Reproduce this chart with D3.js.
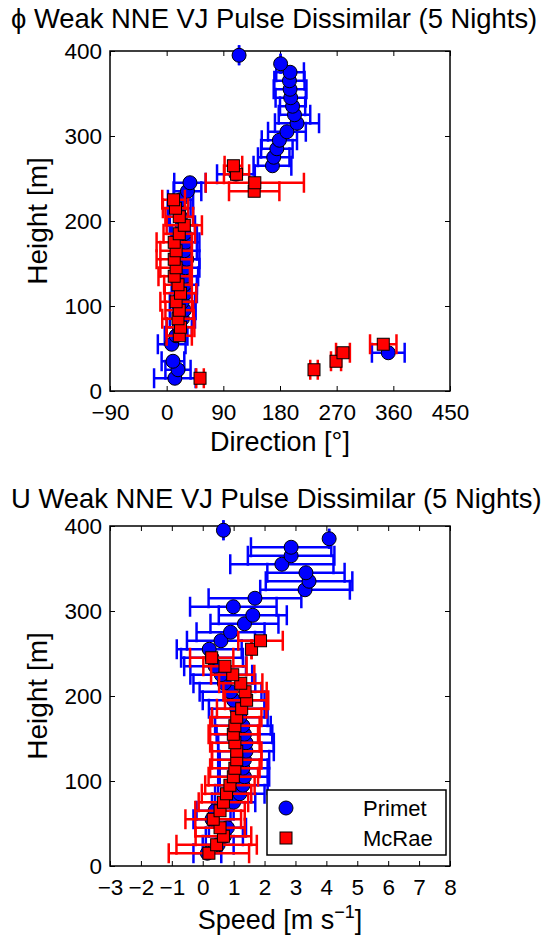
<!DOCTYPE html>
<html>
<head>
<meta charset="utf-8">
<script src="https://cdn.jsdelivr.net/npm/d3@7"></script>
<style>
body { margin: 0; background: #fff; }
text { font-family: "Liberation Sans", Arial, sans-serif; fill: #000; }
</style>
</head>
<body>
<div id="chart"></div>
<script>
// Heights [m]
var primetHeights = [15, 25, 35, 45, 55, 65, 75, 85, 95, 105, 115, 125, 135, 145, 155, 165, 175, 185, 195, 205,
    215, 225, 235, 245, 255, 265, 275, 285, 295, 305, 315, 325, 335, 345, 355, 365, 375, 385, 395];
var mcraeHeights = [15, 25, 35, 45, 55, 65, 75, 85, 95, 105, 115, 125, 135, 145, 155, 165, 175, 185, 195, 205,
    215, 225, 235, 245, 255, 265];

// Direction [deg]
var primetDir = [13, 18, 10, 352, 8, 15, 20, 25, 28, 25, 30, 28, 30, 30, 32, 28, 30, 28, 25, 22,
    20, 22, 33, 37, 110, 168, 170, 175, 179, 191, 207, 203, 200, 197, 196, 195, 196, 181, 115];
var primetDirErr = [33, 20, 18, 26, 22, 18, 20, 20, 18, 20, 18, 20, 20, 22, 20, 20, 22, 20, 20, 20,
    18, 20, 22, 25, 30, 30, 25, 25, 28, 30, 35, 25, 20, 24, 26, 24, 22, 0, 0];
var mcraeDir = [53, 234, 269, 280, 344, 20, 22, 18, 20, 15, 22, 18, 12, 15, 12, 15, 12, 20, 28, 20,
    14, 11, 139, 140, 111, 106];
var mcraeDirErr = [6, 6, 8, 11, 21, 20, 22, 25, 22, 25, 25, 22, 25, 25, 28, 25, 28, 25, 28, 22,
    20, 18, 40, 78, 20, 14];

// Speed [m/s]
var primetSpeed = [0.15, 0.5, 0.7, 0.8, 0.3, 0.4, 1.0, 1.2, 1.3, 1.35, 1.3, 1.35, 1.4, 1.4, 1.35, 1.3, 1.2, 1.1, 1.0, 0.9,
    0.7, 0.6, 0.4, 0.3, 0.21, 0.59, 0.9, 1.35, 1.62, 0.99, 1.69, 3.31, 3.44, 3.34, 2.56, 2.86, 2.86, 4.09, 0.67];
var primetSpeedErr = [0.45, 0.5, 0.6, 0.6, 0.6, 0.6, 0.7, 0.8, 0.8, 0.8, 0.8, 0.8, 0.9, 0.9, 0.9, 0.9, 0.9, 0.9, 1.0, 1.0,
    1.0, 1.0, 1.0, 1.0, 1.05, 1.1, 1.1, 1.1, 1.1, 1.4, 1.5, 1.45, 1.4, 1.25, 1.67, 1.4, 1.3, 0, 0];
var mcraeSpeed = [0.2, 0.45, 0.67, 0.56, 0.34, 0.56, 0.67, 0.77, 0.88, 0.99, 1.04, 1.1, 1.1, 1.04, 0.99, 1.04, 1.1, 1.26, 1.42, 1.37,
    1.23, 0.97, 0.72, 0.29, 1.58, 1.87];
var mcraeSpeedErr = [1.3, 1.3, 0.9, 0.8, 0.9, 0.8, 0.8, 0.8, 0.8, 0.8, 0.8, 0.8, 0.8, 0.8, 0.8, 0.8, 0.8, 0.8, 0.7, 0.7,
    0.7, 0.7, 0.7, 0.7, 0, 0.72];

// Ticks
var dirTicks = [-90, 0, 90, 180, 270, 360, 450];
var speedTicks = [-3, -2, -1, 0, 1, 2, 3, 4, 5, 6, 7, 8];
var heightTicks = [0, 100, 200, 300, 400];

var seriesNames = ["Primet", "McRae"];

// Layout
var svgWidth = 551;
var svgHeight = 941;
var plotLeft = 110;
var plotWidth = 340;
var plotHeight = 340;
var capHalf = 10;

var svg = d3.select("#chart")
    .append("svg")
    .attr("width", svgWidth)
    .attr("height", svgHeight);

var minus = v => (v < 0 ? "\u2212" + Math.abs(v) : "" + v);

function drawPanel(opts) {
    var g = svg.append("g")
        .attr("transform", `translate(${plotLeft}, ${opts.top})`);

    var x = d3.scaleLinear().domain(opts.xDomain).range([0, plotWidth]);
    var y = d3.scaleLinear().domain([0, 400]).range([plotHeight, 0]);

    // axes, ticks pointing inward on all four sides
    var bottom = g.append("g")
        .attr("transform", `translate(0, ${plotHeight})`)
        .call(d3.axisBottom(x).tickValues(opts.xTicks).tickSize(-5).tickSizeOuter(0).tickPadding(13).tickFormat(minus));
    var top = g.append("g")
        .call(d3.axisTop(x).tickValues(opts.xTicks).tickSize(-5).tickSizeOuter(0).tickFormat(""));
    var left = g.append("g")
        .call(d3.axisLeft(y).tickValues(heightTicks).tickSize(-5).tickSizeOuter(0).tickPadding(8));
    var right = g.append("g")
        .attr("transform", `translate(${plotWidth}, 0)`)
        .call(d3.axisRight(y).tickValues(heightTicks).tickSize(-5).tickSizeOuter(0).tickFormat(""));

    [bottom, top, left, right].forEach(a => {
        a.select(".domain").remove();
        a.selectAll(".tick line").attr("stroke", "#000").attr("stroke-width", 1);
        a.selectAll(".tick text").attr("font-size", "22.5px").attr("font-family", "Liberation Sans, Arial, sans-serif");
    });

    g.append("rect")
        .attr("width", plotWidth)
        .attr("height", plotHeight)
        .attr("fill", "none")
        .attr("stroke", "#000")
        .attr("stroke-width", 1.5);

    // series: Primet first, McRae on top
    opts.series.forEach(s => {
        var pts = s.heights.map((h, i) => ({ h: h, v: s.values[i], e: s.errors[i] }));
        var bars = g.append("g")
            .attr("stroke", s.color)
            .attr("stroke-width", 2.5)
            .attr("fill", "none");
        bars.selectAll("line.bar")
            .data(pts)
            .enter()
            .append("line")
            .attr("x1", d => x(d.v - d.e))
            .attr("x2", d => x(d.v + d.e))
            .attr("y1", d => y(d.h))
            .attr("y2", d => y(d.h));
        bars.selectAll("line.capl")
            .data(pts)
            .enter()
            .append("line")
            .attr("x1", d => x(d.v - d.e))
            .attr("x2", d => x(d.v - d.e))
            .attr("y1", d => y(d.h) - capHalf)
            .attr("y2", d => y(d.h) + capHalf);
        bars.selectAll("line.capr")
            .data(pts)
            .enter()
            .append("line")
            .attr("x1", d => x(d.v + d.e))
            .attr("x2", d => x(d.v + d.e))
            .attr("y1", d => y(d.h) - capHalf)
            .attr("y2", d => y(d.h) + capHalf);

        var marks = g.append("g");
        if (s.shape === "circle") {
            marks.selectAll("circle")
                .data(pts)
                .enter()
                .append("circle")
                .attr("cx", d => x(d.v))
                .attr("cy", d => y(d.h))
                .attr("r", 7)
                .attr("fill", s.color)
                .attr("stroke", "#000")
                .attr("stroke-width", 1);
        } else {
            marks.selectAll("rect")
                .data(pts)
                .enter()
                .append("rect")
                .attr("x", d => x(d.v) - 6)
                .attr("y", d => y(d.h) - 6)
                .attr("width", 12)
                .attr("height", 12)
                .attr("fill", s.color)
                .attr("stroke", "#000")
                .attr("stroke-width", 1);
        }
    });

    // title
    svg.append("text")
        .attr("x", 11)
        .attr("y", opts.titleY)
        .attr("font-size", "27.4px")
        .text(opts.title);

    // y label
    svg.append("text")
        .attr("transform", `translate(47, ${opts.top + plotHeight / 2}) rotate(-90)`)
        .attr("text-anchor", "middle")
        .attr("font-size", "28px")
        .text("Height [m]");

    // x label
    var xl = svg.append("text")
        .attr("x", plotLeft + plotWidth / 2)
        .attr("y", opts.top + plotHeight + opts.xLabelOffset)
        .attr("text-anchor", "middle")
        .attr("font-size", "27px");
    opts.xLabel(xl);

    return { g: g, x: x, y: y };
}

drawPanel({
    top: 51,
    xDomain: [-90, 450],
    xTicks: dirTicks,
    title: "\u03d5 Weak NNE VJ Pulse Dissimilar (5 Nights)",
    titleY: 28,
    xLabelOffset: 60,
    xLabel: t => t.text("Direction [\u00b0]"),
    series: [
        { heights: primetHeights, values: primetDir, errors: primetDirErr, color: "#0000ff", shape: "circle" },
        { heights: mcraeHeights, values: mcraeDir, errors: mcraeDirErr, color: "#ff0000", shape: "square" }
    ]
});

drawPanel({
    top: 526,
    xDomain: [-3, 8],
    xTicks: speedTicks,
    title: "U Weak NNE VJ Pulse Dissimilar (5 Nights)",
    titleY: 508,
    xLabelOffset: 63,
    xLabel: t => {
        t.append("tspan").text("Speed [m s");
        t.append("tspan").attr("font-size", "18px").attr("dy", -11).text("\u22121");
        t.append("tspan").attr("dy", 11).text("]");
    },
    series: [
        { heights: primetHeights, values: primetSpeed, errors: primetSpeedErr, color: "#0000ff", shape: "circle" },
        { heights: mcraeHeights, values: mcraeSpeed, errors: mcraeSpeedErr, color: "#ff0000", shape: "square" }
    ]
});

// Legend
var legend = svg.append("g")
    .attr("transform", "translate(267, 790)");
legend.append("rect")
    .attr("width", 179)
    .attr("height", 65)
    .attr("fill", "#fff")
    .attr("stroke", "#000")
    .attr("stroke-width", 1.5);
legend.append("circle")
    .attr("cx", 19).attr("cy", 18).attr("r", 7)
    .attr("fill", "#0000ff").attr("stroke", "#000");
legend.append("rect")
    .attr("x", 13).attr("y", 42).attr("width", 12).attr("height", 12)
    .attr("fill", "#ff0000").attr("stroke", "#000");
legend.selectAll("text.lab")
    .data(seriesNames)
    .enter()
    .append("text")
    .attr("x", 96)
    .attr("y", (d, i) => 18 + i * 30)
    .attr("dy", "0.35em")
    .attr("font-size", "22px")
    .text(d => d);
</script>
</body>
</html>
